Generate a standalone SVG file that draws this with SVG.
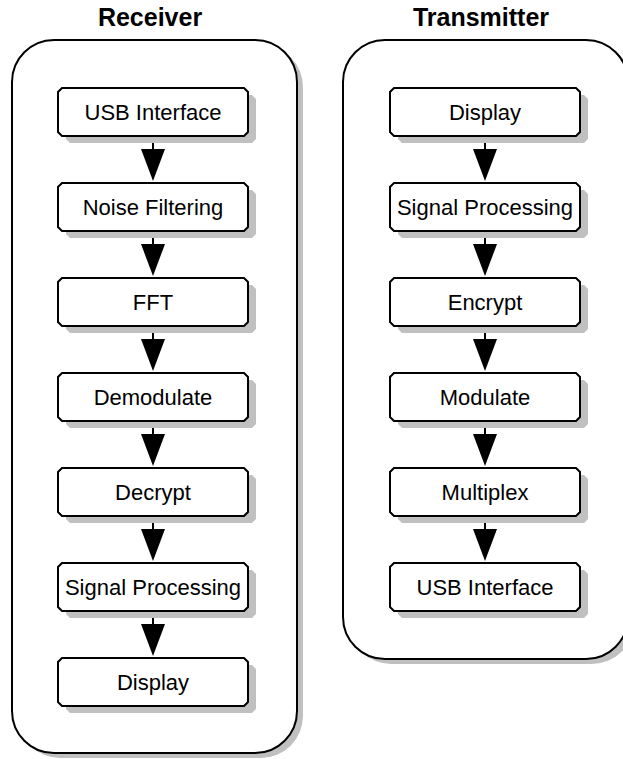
<svg xmlns="http://www.w3.org/2000/svg" xmlns:xlink="http://www.w3.org/1999/xlink" width="623" height="759" viewBox="0 0 623 759">
<style>
.bg{fill:#ffffff}
.sh{fill:#c0c0c0;stroke:none}
.cont{fill:#ffffff;stroke:#000;stroke-width:2}
.bx{fill:#ffffff;stroke:#000;stroke-width:2}
.lbl{font-family:"Liberation Sans",Arial,sans-serif;font-size:22px;fill:#000;text-anchor:middle}
.ttl{font-family:"Liberation Sans",Arial,sans-serif;font-size:25px;font-weight:bold;fill:#000;text-anchor:middle}
.ln{stroke:#000;stroke-width:2;fill:none;marker-end:url(#ah)}
</style>
<defs>
<path id="nb" d="M4,0 H186 L190,4 V44 L186,48 H4 L0,44 V4 Z"/>
<marker id="ah" viewBox="0 0 32 24" refX="29" refY="12" markerWidth="32" markerHeight="24" markerUnits="userSpaceOnUse" orient="auto">
<path d="M0,0 L32,12 L0,24 Z" fill="#000"/>
</marker>
</defs>
<rect class="bg" x="0" y="0" width="623" height="759"/>

<g id="receiver">
<rect class="sh" x="18" y="45" width="285" height="713" rx="42"/>
<rect class="cont" x="12" y="40" width="285" height="713" rx="42"/>
<text class="ttl" x="150" y="26">Receiver</text>
</g>
<g id="transmitter">
<rect class="sh" x="349" y="45" width="285" height="619" rx="42"/>
<rect class="cont" x="343" y="40" width="285" height="619" rx="42"/>
<text class="ttl" x="481" y="26">Transmitter</text>
</g>

<g id="connectors">
<path class="ln" d="M153,136 V178"/>
<path class="ln" d="M153,231 V273"/>
<path class="ln" d="M153,326 V368"/>
<path class="ln" d="M153,421 V463"/>
<path class="ln" d="M153,516 V558"/>
<path class="ln" d="M153,611 V653"/>
<path class="ln" d="M485,136 V178"/>
<path class="ln" d="M485,231 V273"/>
<path class="ln" d="M485,326 V368"/>
<path class="ln" d="M485,421 V463"/>
<path class="ln" d="M485,516 V558"/>
</g>

<g id="r_usb" transform="translate(58,88)"><use xlink:href="#nb" class="sh" x="8" y="7"/><use xlink:href="#nb" class="bx"/><text class="lbl" x="95" y="32">USB Interface</text></g>
<g id="r_noise" transform="translate(58,183)"><use xlink:href="#nb" class="sh" x="8" y="7"/><use xlink:href="#nb" class="bx"/><text class="lbl" x="95" y="32">Noise Filtering</text></g>
<g id="r_fft" transform="translate(58,278)"><use xlink:href="#nb" class="sh" x="8" y="7"/><use xlink:href="#nb" class="bx"/><text class="lbl" x="95" y="32">FFT</text></g>
<g id="r_demod" transform="translate(58,373)"><use xlink:href="#nb" class="sh" x="8" y="7"/><use xlink:href="#nb" class="bx"/><text class="lbl" x="95" y="32">Demodulate</text></g>
<g id="r_decrypt" transform="translate(58,468)"><use xlink:href="#nb" class="sh" x="8" y="7"/><use xlink:href="#nb" class="bx"/><text class="lbl" x="95" y="32">Decrypt</text></g>
<g id="r_sigproc" transform="translate(58,563)"><use xlink:href="#nb" class="sh" x="8" y="7"/><use xlink:href="#nb" class="bx"/><text class="lbl" x="95" y="32">Signal Processing</text></g>
<g id="r_display" transform="translate(58,658)"><use xlink:href="#nb" class="sh" x="8" y="7"/><use xlink:href="#nb" class="bx"/><text class="lbl" x="95" y="32">Display</text></g>

<g id="t_display" transform="translate(390,88)"><use xlink:href="#nb" class="sh" x="8" y="7"/><use xlink:href="#nb" class="bx"/><text class="lbl" x="95" y="32">Display</text></g>
<g id="t_sigproc" transform="translate(390,183)"><use xlink:href="#nb" class="sh" x="8" y="7"/><use xlink:href="#nb" class="bx"/><text class="lbl" x="95" y="32">Signal Processing</text></g>
<g id="t_encrypt" transform="translate(390,278)"><use xlink:href="#nb" class="sh" x="8" y="7"/><use xlink:href="#nb" class="bx"/><text class="lbl" x="95" y="32">Encrypt</text></g>
<g id="t_modulate" transform="translate(390,373)"><use xlink:href="#nb" class="sh" x="8" y="7"/><use xlink:href="#nb" class="bx"/><text class="lbl" x="95" y="32">Modulate</text></g>
<g id="t_multiplex" transform="translate(390,468)"><use xlink:href="#nb" class="sh" x="8" y="7"/><use xlink:href="#nb" class="bx"/><text class="lbl" x="95" y="32">Multiplex</text></g>
<g id="t_usb" transform="translate(390,563)"><use xlink:href="#nb" class="sh" x="8" y="7"/><use xlink:href="#nb" class="bx"/><text class="lbl" x="95" y="32">USB Interface</text></g>
</svg>
